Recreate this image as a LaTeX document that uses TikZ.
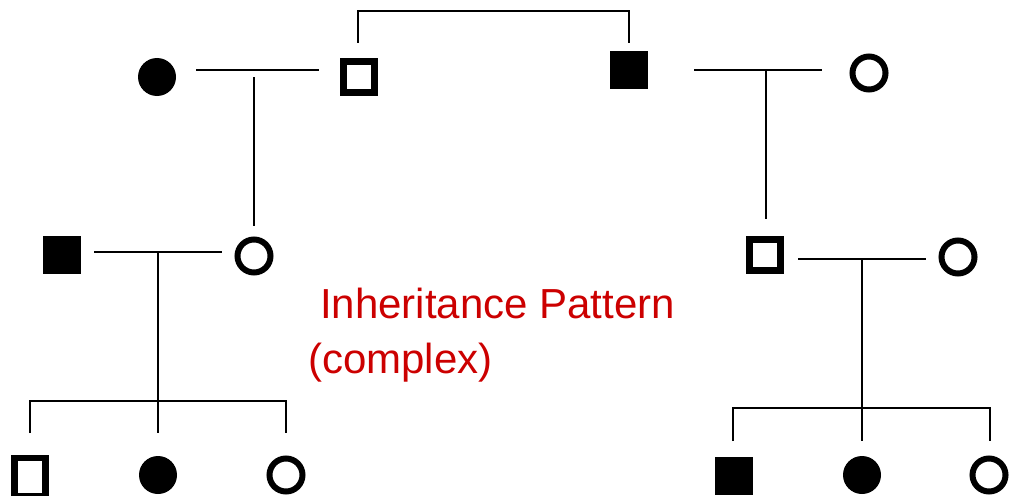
\documentclass[tikz,border=0pt]{standalone}
\usepackage{fontspec}
\setmainfont{Liberation Sans}
\definecolor{labelred}{RGB}{204,0,0}
\begin{document}
\begin{tikzpicture}[x=1pt,y=-1pt,
  conn/.style={line width=2pt, line cap=butt},
  femaleaff/.style={circle, fill=black, draw=none, inner sep=0pt, minimum size=38pt},
  femaleun/.style={circle, draw=black, line width=6pt, fill=white, inner sep=0pt, minimum size=33pt},
  maleaff/.style={rectangle, fill=black, draw=none, inner sep=0pt, minimum size=38pt},
  maleun/.style={rectangle, draw=black, line width=6.5pt, fill=white, inner sep=0pt, minimum size=31pt},
  lbl/.style={text=labelred, font=\fontsize{42}{50}\selectfont, anchor=base west, inner sep=0pt}]
\useasboundingbox (0,0) rectangle (1014,495);
\fill[white] (0,0) rectangle (1014,495);
% generation I
\node[femaleaff] (f1) at (157,77) {};
\node[maleun] (m1) at (359,77) {};
\node[maleaff] (m2) at (629,70) {};
\node[femaleun] (f2) at (869,73) {};
% generation II
\node[maleaff] (m3) at (62,255) {};
\node[femaleun] (f3) at (254,256) {};
\node[maleun] (m4) at (765,255) {};
\node[femaleun] (f4) at (958,257) {};
% generation III
\node[maleun, minimum height=38pt] (c1) at (30,477) {};
\node[femaleaff] (c2) at (158,475) {};
\node[femaleun] (c3) at (286,475) {};
\node[maleaff] (c4) at (734,476) {};
\node[femaleaff] (c5) at (862,475) {};
\node[femaleun] (c6) at (989,475) {};
% label
\node[lbl] (t1) at (320,318) {Inheritance Pattern};
\node[lbl] (t2) at (308,373) {(complex)};
% coordinates
\coordinate (u1a) at (196,70); \coordinate (u1b) at (319,70);
\coordinate (d1a) at (254,77); \coordinate (d1b) at (254,226);
\coordinate (bra) at (358,43); \coordinate (brb) at (629,43);
\coordinate (u2a) at (694,70); \coordinate (u2b) at (822,70);
\coordinate (d2a) at (766,70); \coordinate (d2b) at (766,219);
\coordinate (u3a) at (94,252); \coordinate (u3b) at (222,252);
\coordinate (d3a) at (158,252); \coordinate (d3b) at (158,401);
\coordinate (s3a) at (30,433); \coordinate (s3b) at (158,433); \coordinate (s3c) at (286,433);
\coordinate (u4a) at (798,259); \coordinate (u4b) at (926,259);
\coordinate (d4a) at (862,259); \coordinate (d4b) at (862,408);
\coordinate (s4a) at (733,441); \coordinate (s4b) at (862,441); \coordinate (s4c) at (990,441);
% connectors
\draw[conn] (u1a) -- (u1b);
\draw[conn] (d1a) -- (d1b);
\draw[conn] (bra) -- ++(0,-32) -| (brb);
\draw[conn] (u2a) -- (u2b);
\draw[conn] (d2a) -- (d2b);
\draw[conn] (u3a) -- (u3b);
\draw[conn] (d3a) -- (d3b);
\draw[conn] (s3a) |- (d3b) -| (s3c);
\draw[conn] (d3b) -- (s3b);
\draw[conn] (u4a) -- (u4b);
\draw[conn] (d4a) -- (d4b);
\draw[conn] (s4a) |- (d4b) -| (s4c);
\draw[conn] (d4b) -- (s4b);
\end{tikzpicture}
\end{document}
